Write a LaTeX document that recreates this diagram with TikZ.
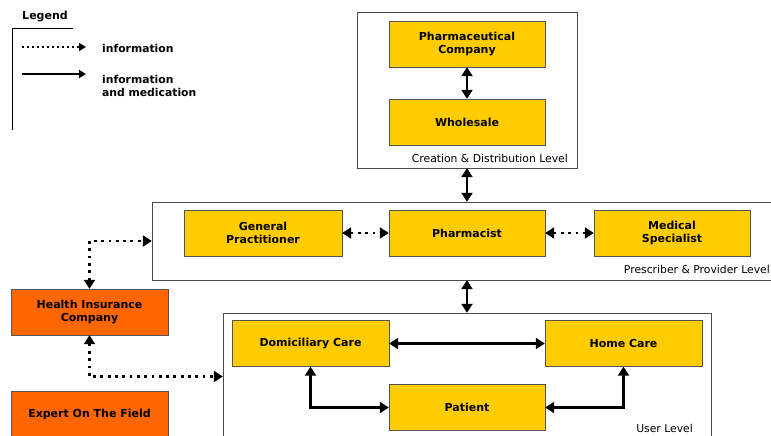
\documentclass[tikz,border=0pt]{standalone}
\usepackage{fontspec}
\setmainfont{DejaVu Sans}
\usetikzlibrary{arrows.meta}

\definecolor{boxyellow}{HTML}{FFCC00}
\definecolor{boxorange}{HTML}{FF6600}
\definecolor{edgegray}{HTML}{555555}

\tikzset{
  unit/.style={draw=edgegray, fill=boxyellow, minimum width=156pt, minimum height=46pt,
    align=center, font=\fontsize{11}{13}\selectfont\bfseries, inner sep=0pt},
  outer/.style={unit, fill=boxorange},
  level/.style={draw=black!70, fill=white, inner sep=0pt},
  lvltext/.style={font=\fontsize{10.8}{12}\selectfont, anchor=east, inner sep=0pt},
  med/.style={line width=2.8pt, {Triangle[length=9pt,width=11pt]}-{Triangle[length=9pt,width=11pt]}},
  info/.style={line width=2.8pt, dash pattern=on 2.8pt off 4.5pt,
    {Triangle[length=9pt,width=11pt]}-{Triangle[length=9pt,width=11pt]}},
}

\begin{document}
\begin{tikzpicture}[x=1pt,y=-1pt]
        \clip (0,0) rectangle (771,436);

        % legend
        \node[font=\fontsize{11}{13}\selectfont\bfseries] (legend) at (45,17){Legend};
        \coordinate (lg1) at (12,28);
        \coordinate (lg2) at (73,28);
        \coordinate (lg3) at (12,130);
        \draw (lg2) -- (lg1) -- (lg3);
        \coordinate (ia) at (22,47);
        \coordinate (ib) at (86,47);
        \coordinate (ma) at (22,74);
        \coordinate (mb) at (86,74);
        \draw[line width=2pt, dash pattern=on 2pt off 3pt, -{Triangle[length=7pt,width=8pt]}] (ia) -- (ib);
        \draw[line width=2.4pt, -{Triangle[length=7pt,width=8pt]}] (ma) -- (mb);
        \node[font=\fontsize{10.8}{13}\selectfont\bfseries, anchor=west, inner sep=0pt] (infotxt) at (102,48){information};
        \node[font=\fontsize{10.8}{13}\selectfont\bfseries, anchor=west, align=left, inner sep=0pt] (medtxt) at (102,86){information\\and medication};

        % levels
        \node[level, minimum width=220pt, minimum height=156pt] (crea) at (467,90){};
        \node[level, minimum width=620pt, minimum height=78pt] (prov) at (462,241){};
        \node[level, minimum width=488pt, minimum height=127pt] (user) at (467,376.5){};

        \node[lvltext] (crealbl) at (568,158){Creation \& Distribution Level};
        \node[lvltext] (provlbl) at (770,269){Prescriber \& Provider Level};
        \node[lvltext] (userlbl) at (693,428){User Level};

        % creation & distribution
        \node[unit] (pharmco) at (467,44){Pharmaceutical\\Company};
        \node[unit] (whole) at (467,122){Wholesale};

        % prescriber & provider
        \node[unit, minimum width=158pt] (gp) at (263,233){General\\Practitioner};
        \node[unit] (pharm) at (467,233){Pharmacist};
        \node[unit] (spec) at (672,233){Medical\\Specialist};

        % user
        \node[unit, minimum width=157pt] (dom) at (310.5,343.5){Domiciliary Care};
        \node[unit, minimum width=157pt] (home) at (623.5,343.5){Home Care};
        \node[unit] (pat) at (467,407.5){Patient};

        % others
        \node[outer, minimum width=157pt] (hic) at (89.5,312){Health Insurance\\Company};
        \node[outer, minimum width=157pt] (expert) at (89.5,414){Expert On The Field};

        \draw[med] (pharmco) -- (whole);
        \draw[med] (crea.south) -- (crea.south |- prov.north);
        \draw[med] (user.north |- prov.south) -- (user.north);
        \draw[info] (gp) -- (pharm);
        \draw[info] (pharm) -- (spec);
        \draw[med] (dom) -- (home);
        \draw[med] (dom.south) |- (pat.west);
        \draw[med] (home.south) |- (pat.east);
        \draw[info] (hic.north) |- (prov.west);
        \draw[info] (hic.south) |- (user.west);
    \end{tikzpicture}
\end{document}
